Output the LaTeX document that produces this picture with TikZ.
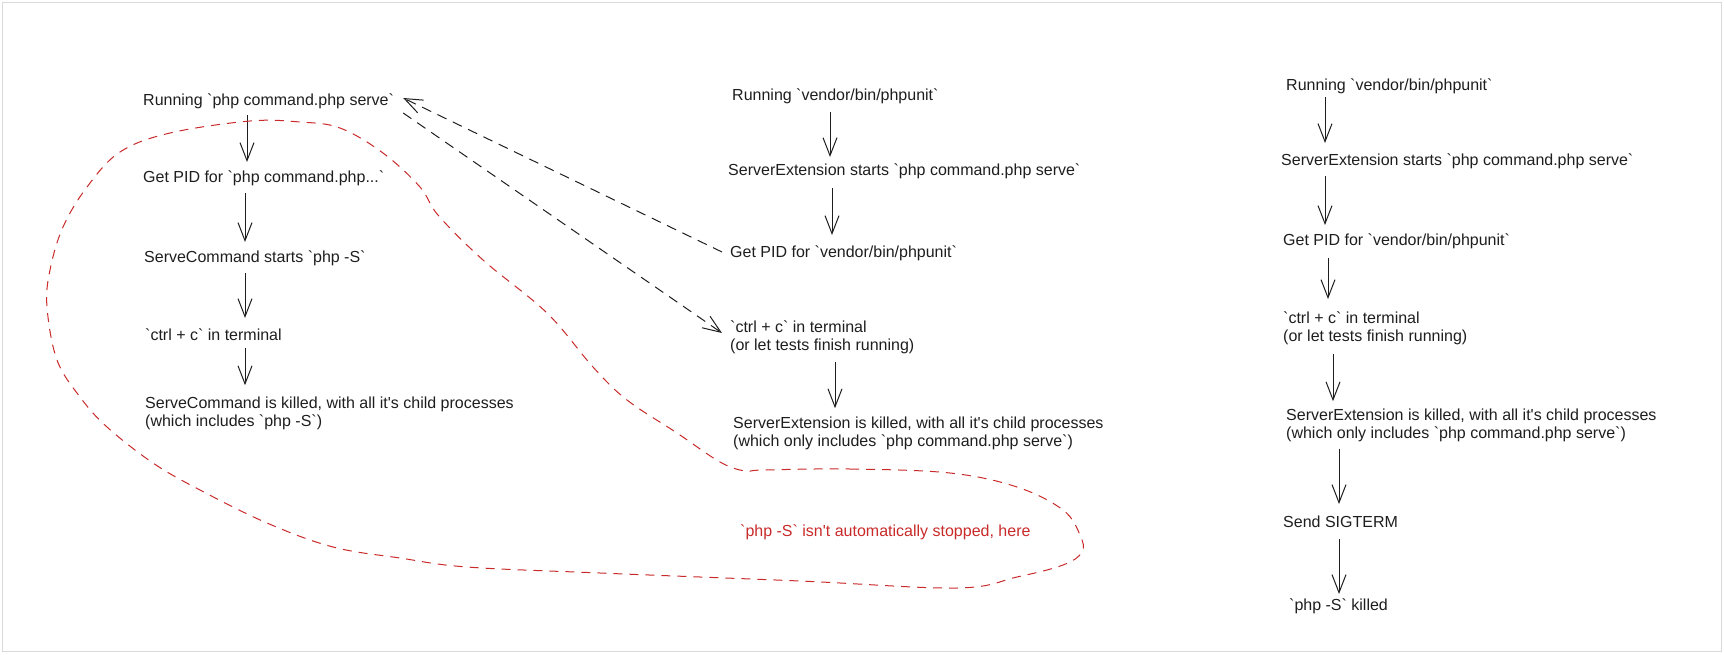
\documentclass[tikz,border=0pt]{standalone}
\usepackage{fontspec}
\newfontfamily\hand{Liberation Sans}
\usetikzlibrary{arrows.meta,calc}
\definecolor{ink}{HTML}{1E1E1E}
\definecolor{redink}{HTML}{C92A2A}
\definecolor{framegray}{HTML}{D9D9D9}
\begin{document}
\begin{tikzpicture}[x=1pt,y=-1pt,
  lbl/.style={anchor=base west, inner sep=0pt, text=ink, font=\hand\fontsize{16}{18}\selectfont, align=left},
  flow/.style={draw=ink, line width=1pt, -{Straight Barb[length=18pt,width=14pt]}},
  link/.style={flow, dash pattern=on 10pt off 7pt},
  loopline/.style={draw=redink, line width=1pt, dash pattern=on 9pt off 7pt},
]
\useasboundingbox (0,0) rectangle (1724,654);
\draw[framegray, line width=1pt] (2.5,2.5) rectangle (1721.5,651.5);

% left column (multi-line nodes are placed by the baseline of their last line)
\node[lbl] (L1) at (143,105) {Running `php command.php serve`};
\node[lbl] (L2) at (143,182) {Get PID for `php command.php...`};
\node[lbl] (L3) at (144,262) {ServeCommand starts `php -S`};
\node[lbl] (L4) at (145,340) {`ctrl + c` in terminal};
\node[lbl] (L5) at (145,426) {ServeCommand is killed, with all it's child processes\\(which includes `php -S`)};

% middle column
\node[lbl] (M1) at (732,100) {Running `vendor/bin/phpunit`};
\node[lbl] (M2) at (728,175) {ServerExtension starts `php command.php serve`};
\node[lbl] (M3) at (730,257) {Get PID for `vendor/bin/phpunit`};
\node[lbl] (M4) at (730,350) {`ctrl + c` in terminal\\(or let tests finish running)};
\node[lbl] (M5) at (733,446) {ServerExtension is killed, with all it's child processes\\(which only includes `php command.php serve`)};

% right column
\node[lbl] (R1) at (1286,90) {Running `vendor/bin/phpunit`};
\node[lbl] (R2) at (1281,165) {ServerExtension starts `php command.php serve`};
\node[lbl] (R3) at (1283,245) {Get PID for `vendor/bin/phpunit`};
\node[lbl] (R4) at (1283,341) {`ctrl + c` in terminal\\(or let tests finish running)};
\node[lbl] (R5) at (1286,438) {ServerExtension is killed, with all it's child processes\\(which only includes `php command.php serve`)};
\node[lbl] (R6) at (1283,527) {Send SIGTERM};
\node[lbl] (R7) at (1289,610) {`php -S` killed};

% red note
\node[lbl, text=redink] (note) at (740,536) {`php -S` isn't automatically stopped, here};

% left arrows
\draw[flow] ($(L1.base west)+(104,10)$) -- ($(L2.base west)+(104,-20)$);
\draw[flow] ($(L2.base west)+(102,11)$) -- ($(L3.base west)+(101,-20)$);
\draw[flow] ($(L3.base west)+(101,11)$) -- ($(L4.base west)+(100,-22)$);
\draw[flow] ($(L4.base west)+(100,8)$) -- ($(L5.north west)+(100,-11)$);

% middle arrows
\draw[flow] ($(M1.base west)+(98,12)$) -- ($(M2.base west)+(102,-18)$);
\draw[flow] ($(M2.base west)+(104,13)$) -- ($(M3.base west)+(102,-22)$);
\draw[flow] ($(M4.south west)+(105,8)$) -- ($(M5.north west)+(102,-8)$);

% right arrows
\draw[flow] ($(R1.base west)+(39,7)$) -- ($(R2.base west)+(44,-22)$);
\draw[flow] ($(R2.base west)+(44,11)$) -- ($(R3.base west)+(42,-20)$);
\draw[flow] ($(R3.base west)+(45,13)$) -- ($(R4.north west)+(45,-12)$);
\draw[flow] ($(R4.south west)+(50,9)$) -- ($(R5.north west)+(47,-7)$);
\draw[flow] ($(R5.south west)+(53,7)$) -- ($(R6.base west)+(56,-23)$);
\draw[flow] ($(R6.base west)+(56,12)$) -- ($(R7.base west)+(50,-16)$);

% dashed links
\draw[link] ($(M3.base west)+(-8,-5)$) -- ($(L1.base east)+(9,-7)$);
\draw[link] ($(L1.base east)+(9,8)$) -- ($(M4.north west)+(-8,13)$);

% red loop
\draw[loopline] plot[smooth cycle, tension=0.6] coordinates {(763,470) (850,469) (950,473) (1017,487) (1063,510) (1080,535) (1082,552) (1063,565) (1017,577) (957,588) (800,581) (600,573) (467,567) (400,558) (333,547) (267,523) (200,490) (153,463) (107,427) (80,397) (57,360) (47,307) (50,270) (63,227) (87,187) (120,152) (170,133) (250,121) (300,122) (340,128) (383,153) (420,187) (438,215) (483,260) (547,313) (593,367) (627,400) (677,433) (720,462) (745,471)};
\end{tikzpicture}
\end{document}
